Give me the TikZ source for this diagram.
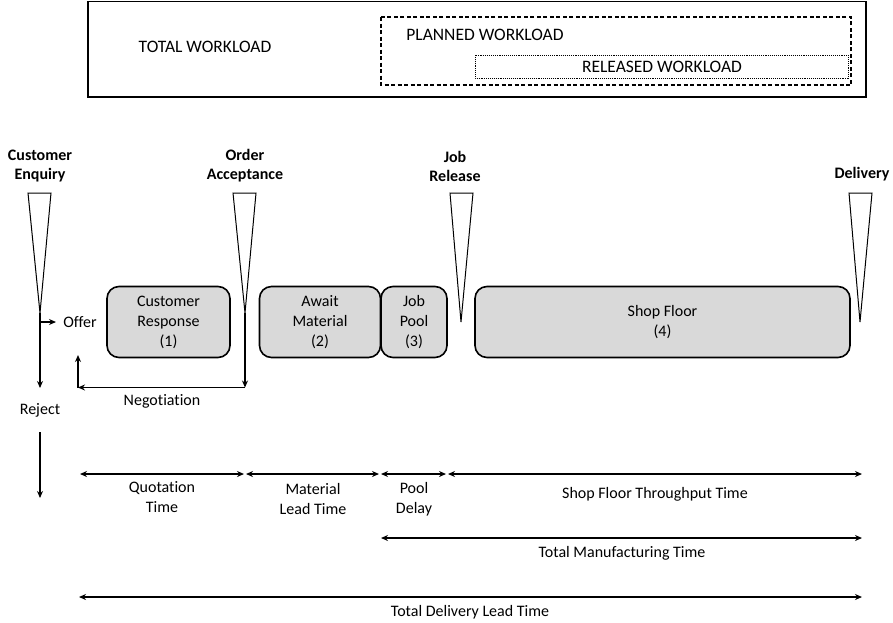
\documentclass[tikz,border=0pt]{standalone}
\usepackage{fontspec}
\setmainfont{Carlito}[Ligatures=NoCommon]
\usetikzlibrary{arrows.meta}
\begin{document}
\begin{tikzpicture}[x=1pt,y=-1pt,
  txt/.style={inner sep=0pt,align=center,font=\fontsize{16}{19.5}\selectfont},
  toptxt/.style={inner sep=0pt,font=\fontsize{17.5}{20}\selectfont},
  lbl/.style={inner sep=0pt,align=center,font=\fontsize{16}{19}\selectfont\bfseries},
  stage/.style={draw,line width=1.6pt,fill=black!15,rounded corners=12pt,
    minimum height=71pt,inner sep=0pt,align=center,
    font=\fontsize{16}{20}\selectfont},
  gate/.style={draw,line width=1pt,fill=white},
  arr/.style={line width=1.6pt,-{Stealth[length=7pt,width=6pt]}},
  span/.style={line width=1.6pt,{Stealth[length=7pt,width=6pt]}-{Stealth[length=7pt,width=6pt]}}]
\useasboundingbox (0,0) rectangle (893,622);

% workload boxes
\draw[line width=1.5pt] (88,1.5) rectangle (866,97);
\node[toptxt] (total) at (205,47) {TOTAL WORKLOAD};
\draw[line width=1.2pt,dash pattern=on 4pt off 2.5pt] (381,17) rectangle (851,85);
\node[toptxt] (planned) at (485,35) {PLANNED WORKLOAD};
\draw[line width=0.9pt,densely dotted] (475,55) rectangle (848,78);
\node[toptxt] (released) at (662,67) {RELEASED WORKLOAD};

% decision points
\draw[gate] (28,193) -- (51,193) -- (40,313) -- cycle;
\coordinate (ce) at (40,313);
\draw[gate] (233,193) -- (256,193) -- (245,313) -- cycle;
\coordinate (oa) at (245,313);
\draw[gate] (450,193) -- (473,193) -- (461,322) -- cycle;
\draw[gate] (849,193) -- (872,193) -- (860,322) -- cycle;

\node[lbl] (enq) at (40,166) {Customer\\Enquiry};
\node[lbl] (acc) at (245,166) {Order\\Acceptance};
\node[lbl] (rel) at (455,166) {Job\\Release};
\node[lbl] (del) at (862,174) {Delivery};

% stages
\node[stage,minimum width=123pt] (cr) at (168.5,322) {Customer\\Response\\(1)};
\node[stage,minimum width=121pt] (am) at (320,322) {Await\\Material\\(2)};
\node[stage,minimum width=66pt] (jp) at (414,322) {Job\\Pool\\(3)};
\node[stage,minimum width=375pt] (sf) at (662.5,322) {Shop Floor\\(4)};

% enquiry outcomes
\node[txt] (offer) at (80,322) {Offer};
\node[txt] (reject) at (40,410) {Reject};
\coordinate (offerin) at (56,322);
\coordinate (rejin) at (40,388);
\coordinate (rejout) at (40,498);
\draw[line width=1.6pt] (ce) -- (40,322);
\draw[arr] (40,322) -- (offerin);
\draw[arr] (40,322) -- (rejin);
\draw[arr] (40,432) -- (rejout);

% negotiation loop
\coordinate (neg) at (245,387.5);
\coordinate (negcorner) at (78,387.5);
\coordinate (negend) at (78,355);
\draw[arr] (oa) -- (neg);
\draw[arr] (neg) -- (negcorner);
\draw[arr] (negcorner) -- (negend);
\node[txt] (negtxt) at (162,401) {Negotiation};

% time spans
\coordinate (q1) at (80,474); \coordinate (q2) at (244,474);
\coordinate (m1) at (246,474); \coordinate (m2) at (379,474);
\coordinate (p1) at (381,474); \coordinate (p2) at (446,474);
\coordinate (s1) at (448,474); \coordinate (s2) at (862,474);
\coordinate (t1) at (381,538); \coordinate (t2) at (862,538);
\coordinate (d1) at (79,597); \coordinate (d2) at (862,597);
\draw[span] (q1) -- (q2);
\draw[span] (m1) -- (m2);
\draw[span] (p1) -- (p2);
\draw[span] (s1) -- (s2);
\draw[span] (t1) -- (t2);
\draw[span] (d1) -- (d2);
\node[txt] (qt) at (162,497) {Quotation\\Time};
\node[txt] (mt) at (313,499) {Material\\Lead Time};
\node[txt] (pd) at (414,499) {Pool\\Delay};
\node[txt] (st) at (655,494) {Shop Floor Throughput Time};
\node[txt] (tm) at (622,553) {Total Manufacturing Time};
\node[txt] (td) at (470,612) {Total Delivery Lead Time};
\end{tikzpicture}
\end{document}
